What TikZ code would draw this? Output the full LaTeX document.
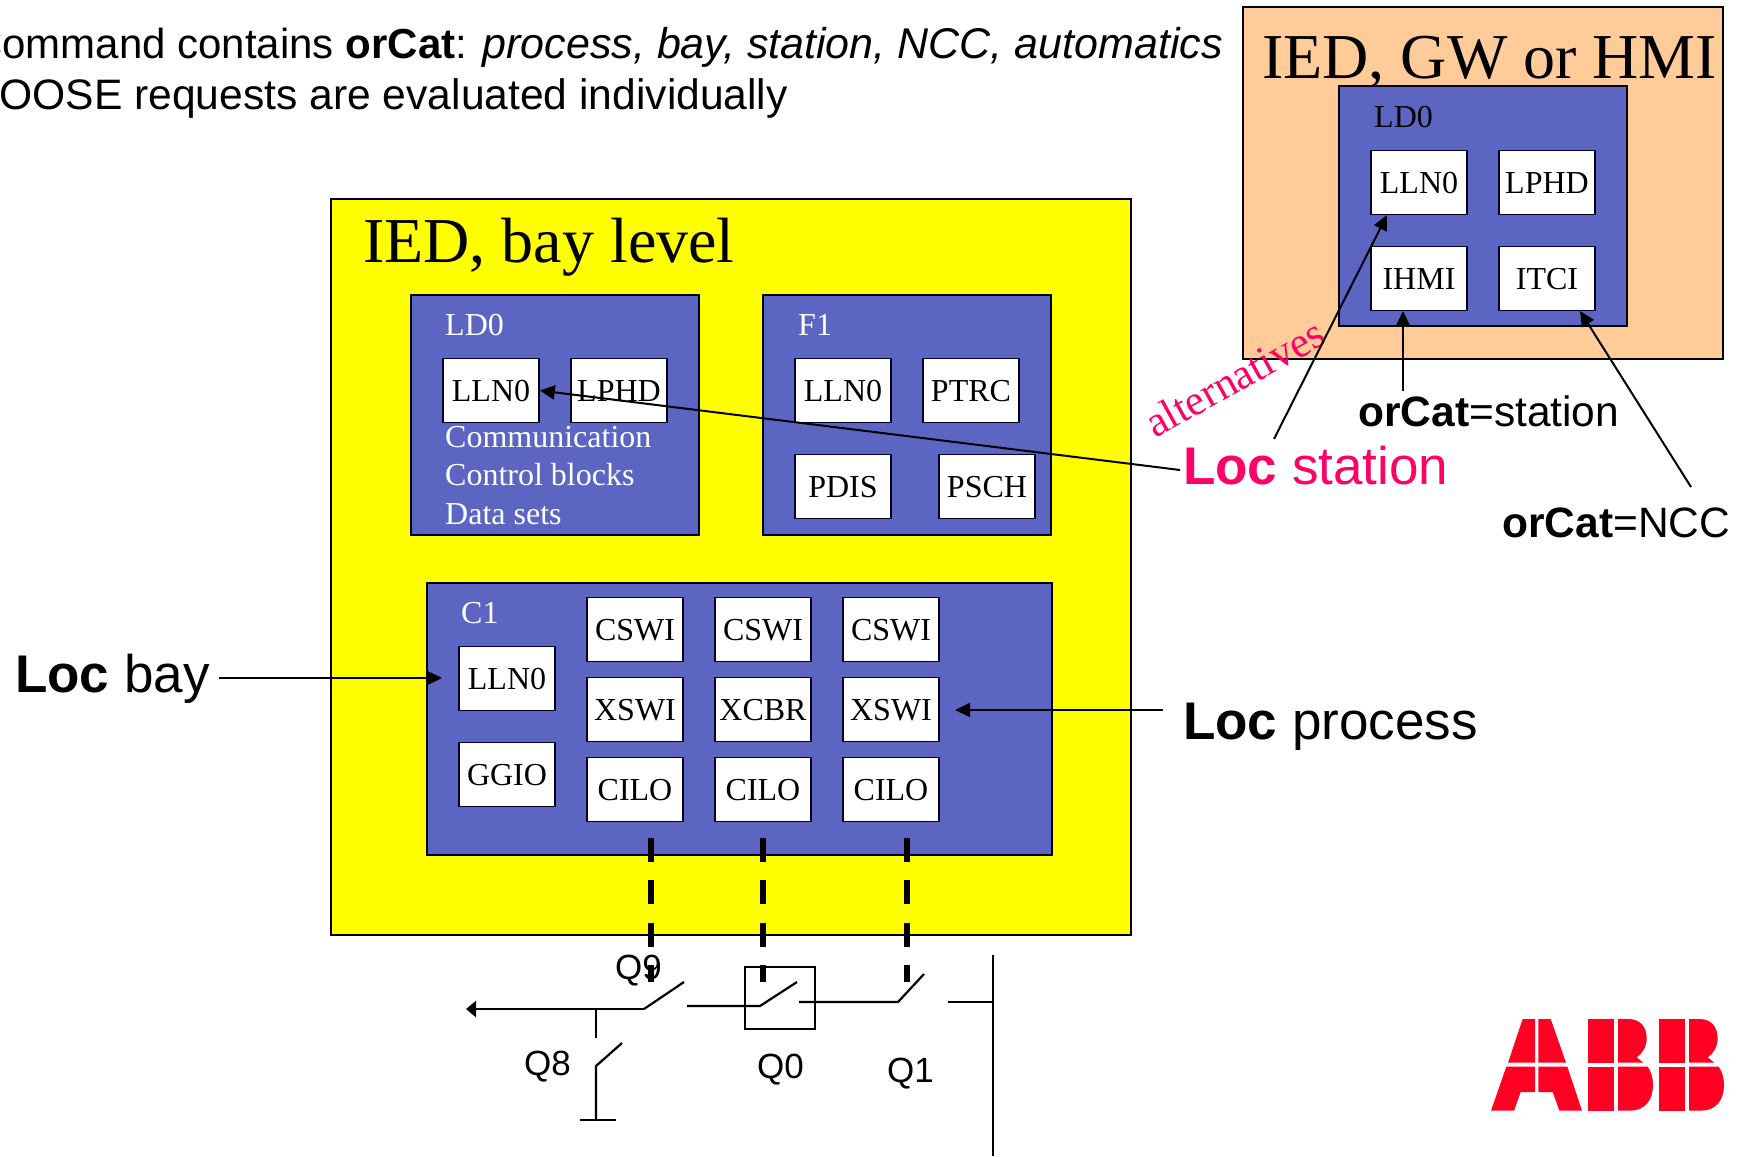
\documentclass[tikz,border=0pt]{standalone}
\usepackage{fontspec}
\setmainfont{Liberation Serif}
\newfontfamily\arialf{Liberation Sans}
\usetikzlibrary{arrows.meta}
\definecolor{ldblue}{HTML}{5C66C2}
\definecolor{iedorange}{HTML}{FFCC99}
\definecolor{iedyellow}{HTML}{FFFF00}
\definecolor{locpink}{HTML}{FF0066}
\definecolor{abbred}{HTML}{FF0022}
\newcommand{\fs}[1]{\fontsize{#1}{#1}\selectfont}
\tikzset{
  x=1pt,y=-1pt,
  iedbox/.style={draw=black,line width=2pt,anchor=north west,inner sep=0pt},
  ldbox/.style={draw=black,fill=ldblue,line width=2pt,anchor=north west,inner sep=0pt},
  lnbox/.style={draw=black!85!blue,fill=white,line width=1.6pt,minimum width=96pt,minimum height=64pt,inner sep=0pt,font=\fs{32},text height=21pt,text depth=0pt,yshift=1.5pt},
  ldtext/.style={text=white,font=\fs{32},anchor=base west,inner sep=0pt},
  blacktext/.style={text=black,anchor=base west,inner sep=0pt},
  sans/.style={anchor=base west,inner sep=0pt,font=\arialf\fs{#1}},
  ptr/.style={line width=2pt,-{Triangle[length=15pt,width=14pt]},shorten >=0pt},
  ctl/.style={line width=6pt,dash pattern=on 24pt off 18.3pt},
  wire/.style={line width=2.2pt},
}
\begin{document}
\begin{tikzpicture}
\clip (0,0) rectangle (1744,1156);
\useasboundingbox (0,0) rectangle (1744,1156);
\fill[white] (0,0) rectangle (1744,1156);

% heading
\node[sans=42] (h1) at (-28,59) {Command contains \textbf{orCat}: {\fs{43}\textit{process, bay, station, NCC, automatics}}};
\node[sans=42.6] (h2) at (-34,109) {GOOSE requests are evaluated individually};

% IED bay level
\node[iedbox,fill=iedyellow,minimum width=800pt,minimum height=736pt] (ied) at (330,198) {};
\node[blacktext,font=\fs{64}] (iedt) at (363,262) {IED, bay level};

% LD0
\node[ldbox,minimum width=288pt,minimum height=240pt] (ld0) at (410,294) {};
\node[ldtext] (ld0t) at (445,335) {LD0};
\node[lnbox] (a1) at (491,392) {LLN0};
\node[lnbox] (a2) at (619,392) {LPHD};
\node[ldtext] (c1t) at (445,447) {Communication};
\node[ldtext] (c2t) at (445,485) {Control blocks};
\node[ldtext] (c3t) at (445,524) {Data sets};

% F1
\node[ldbox,minimum width=288pt,minimum height=240pt] (f1) at (762,294) {};
\node[ldtext] (f1t) at (798,335) {F1};
\node[lnbox] (f11) at (843,392) {LLN0};
\node[lnbox] (f12) at (971,392) {PTRC};
\node[lnbox] (f13) at (843,488) {PDIS};
\node[lnbox] (f14) at (987,488) {PSCH};

% C1
\node[ldbox,minimum width=625pt,minimum height=272pt] (c1) at (426,582) {};
\node[ldtext] (c1l) at (461,623) {C1};
\node[lnbox] (cl) at (507,680) {LLN0};
\node[lnbox] (cg) at (507,776) {GGIO};
\node[lnbox] (s1) at (635,631) {CSWI};
\node[lnbox] (s2) at (763,631) {CSWI};
\node[lnbox] (s3) at (891,631) {CSWI};
\node[lnbox] (x1) at (635,711) {XSWI};
\node[lnbox] (x2) at (763,711) {XCBR};
\node[lnbox] (x3) at (891,711) {XSWI};
\node[lnbox] (i1) at (635,791) {CILO};
\node[lnbox] (i2) at (763,791) {CILO};
\node[lnbox] (i3) at (891,791) {CILO};

% IED, GW or HMI
\node[iedbox,fill=iedorange,minimum width=480pt,minimum height=352pt] (gw) at (1242,6) {};
\node[blacktext,font=\fs{64}] (gwt) at (1262,78) {IED, GW or HMI};
\node[ldbox,minimum width=288pt,minimum height=240pt] (gl) at (1338,85) {};
\node[ldtext,text=black] (glt) at (1374,127) {LD0};
\node[lnbox] (g1) at (1419,184) {LLN0};
\node[lnbox] (g2) at (1547,184) {LPHD};
\node[lnbox] (g3) at (1419,280) {IHMI};
\node[lnbox] (g4) at (1547,280) {ITCI};

% labels
\node[sans=53,text=locpink] (locst) at (1183,484) {\textbf{Loc} station};
\node[sans=42.5] (ors) at (1358,426) {\textbf{orCat}=station};
\node[sans=42.5] (orn) at (1502,537) {\textbf{orCat}=NCC};
\node[sans=53] (locb) at (15,692) {\textbf{Loc} bay};
\node[sans=53] (locp) at (1183,739) {\textbf{Loc} process};
\node[text=locpink,font=\fs{43},anchor=base west,inner sep=0pt,rotate=29] (alt) at (1155,439) {alternatives};

% pointers
\coordinate (pa) at (1180,470);
\coordinate (pb) at (1274,439);
\coordinate (pc) at (1403,391);
\coordinate (pd) at (1691,487);
\coordinate (pe) at (219,678);
\coordinate (pf) at (1163,710);
\draw[ptr] (pa) -- (a1.east);
\draw[ptr] (pb) -- (1387,215);
\draw[ptr] (pc) -- (1403,311);
\draw[ptr] (pd) -- (1580,311);
\draw[ptr] (pe) -- (442,678);
\draw[ptr] (pf) -- (955,710);

% control lines
\coordinate (d1) at (651,838); \coordinate (d1e) at (651,982);
\coordinate (d2) at (763,838); \coordinate (d2e) at (763,982);
\coordinate (d3) at (907,838); \coordinate (d3e) at (907,982);
\draw[ctl] (d1) -- (d1e);
\draw[ctl] (d2) -- (d2e);
\draw[ctl] (d3) -- (d3e);

% single line diagram
\node[sans=35] (q9) at (615,979) {Q9};
\node[sans=35] (q8) at (524,1075) {Q8};
\node[sans=35] (q0) at (757,1078) {Q0};
\node[sans=35] (q1) at (887,1082) {Q1};
\node[draw=black,line width=2.4pt,anchor=north west,minimum width=70pt,minimum height=62pt,inner sep=0pt] (q0box) at (744,966) {};
\draw[wire,-{Triangle[length=10pt,width=16pt]}] (644,1009) -- (466,1009);
\draw[wire] (684,982) -- (644,1009);
\draw[wire] (596,1009) -- (596,1038);
\draw[wire] (622,1043) -- (596,1066) -- (596,1120);
\draw[wire] (580,1120) -- (616,1120);
\draw[wire] (687,1006) -- (760,1006) -- (797,982);
\draw[wire] (799,1002) -- (898,1002) -- (924,974);
\draw[wire] (948,1002) -- (993,1002);
\draw[wire] (993,955) -- (993,1156);

% ABB logo
\begin{scope}[shift={(1480,1000)},x=0.3333pt,y=-0.3333pt,fill=abbred]
\fill (128,57) -- (165,57) -- (165,188) -- (84,188) -- cycle;
\fill (175,57) -- (212,57) -- (258,188) -- (175,188) -- cycle;
\fill (79,200) -- (165,200) -- (165,276) -- (122,276) -- (102,332) -- (33,332) -- cycle;
\fill (175,200) -- (262,200) -- (306,332) -- (238,332) -- (218,276) -- (175,276) -- cycle;
\foreach \dx in {0,213}{
\begin{scope}[xshift=\dx*0.3333pt]
\fill (325,57) rectangle (403,188);
\fill (325,200) rectangle (403,332);
\fill (414,57) -- (445,57) .. controls (480,57) and (500,80) .. (500,115) .. controls (500,140) and (488,160) .. (470,172) -- (490,188) -- (414,188) -- cycle;
\fill (414,200) -- (503,200) .. controls (514,215) and (519,235) .. (519,255) .. controls (519,300) and (495,332) .. (450,332) -- (414,332) -- cycle;
\end{scope}}
\end{scope}
\end{tikzpicture}
\end{document}
